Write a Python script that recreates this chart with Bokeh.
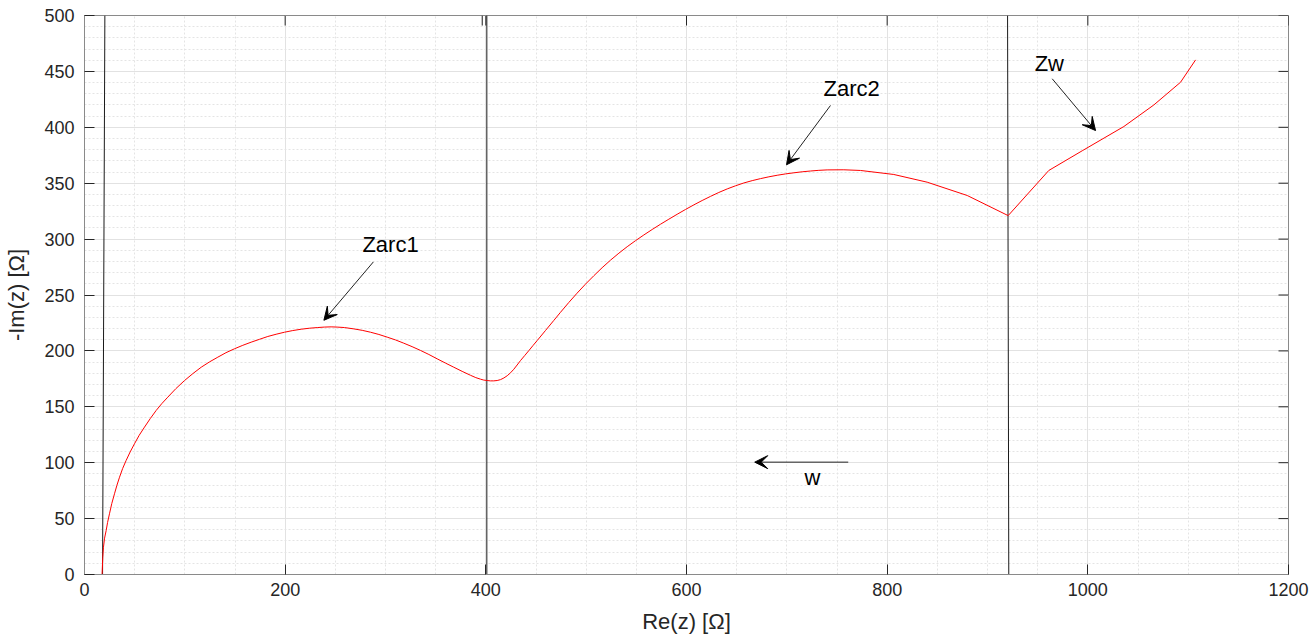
import math
from bokeh.plotting import figure
from bokeh.models import Range1d, Arrow, VeeHead, FixedTicker, ColumnDataSource
from bokeh.embed import file_html
from bokeh.resources import INLINE
from bokeh.core.properties import value

# ---- data ----
re_z = [17.5, 18.2, 18.9, 20.0, 21.6, 23.0, 24.9, 27.2, 29.9, 32.3, 34.9, 38.0,
        41.5, 45.5, 49.8, 54.5, 59.8, 65.5, 71.4, 77.0, 83.0, 91.0, 99.7, 108.0,
        116.3, 124.5, 132.9, 141.0, 149.5, 157.8, 166.1, 174.5, 182.7, 191.0,
        199.3, 207.6, 216.0, 224.2, 232.5, 239.0, 245.8, 251.8, 259.0, 268.4,
        276.8, 285.1, 293.4, 301.7, 310.0, 318.2, 326.5, 334.9, 343.2, 351.5,
        359.8, 368.1, 376.4, 384.7, 390.0, 394.7, 398.0, 401.3, 404.5, 407.9,
        411.3, 414.6, 418.0, 421.3, 424.6, 427.9, 431.2, 434.6, 438.7, 442.9,
        447.0, 451.2, 459.5, 467.8, 474.4, 482.6, 490.9, 499.2, 507.6, 515.9,
        524.3, 532.6, 540.9, 549.2, 557.5, 565.8, 574.1, 582.4, 590.7, 599.0,
        607.3, 615.6, 623.9, 632.2, 640.6, 648.9, 657.1, 665.5, 673.8, 682.1,
        690.4, 698.7, 707.0, 715.3, 723.6, 731.9, 740.2, 756.8, 773.4, 806.6,
        839.9, 879.8, 920.6, 961.1, 994.4, 1035.9, 1065.8, 1092.4, 1107.4]
neg_im_z = [0.0, 15.0, 24.4, 32.5, 39.4, 46.5, 54.3, 63.5, 72.2, 79.8, 87.0, 94.8,
            102.0, 109.6, 116.9, 124.5, 131.8, 139.4, 146.7, 152.8, 158.6, 166.2,
            173.5, 179.7, 185.4, 190.1, 194.4, 198.4, 201.9, 205.0, 207.8, 210.4,
            212.9, 214.9, 216.7, 218.2, 219.4, 220.3, 220.9, 221.3, 221.5, 221.3,
            220.9, 219.7, 218.4, 216.7, 214.7, 212.3, 209.8, 206.9, 203.8, 200.4,
            196.8, 192.9, 189.1, 185.4, 181.7, 178.2, 176.1, 174.7, 173.9, 173.5,
            173.2, 173.2, 173.5, 174.3, 175.8, 177.8, 180.4, 183.6, 187.4, 191.4,
            195.8, 200.3, 204.8, 209.3, 218.3, 227.3, 234.5, 243.2, 251.6, 259.6,
            267.2, 274.4, 281.2, 287.4, 293.2, 298.6, 303.7, 308.6, 313.3, 317.8,
            322.2, 326.5, 330.6, 334.5, 338.2, 341.7, 344.9, 347.7, 350.2, 352.3,
            354.1, 355.7, 357.1, 358.3, 359.3, 360.2, 360.9, 361.5, 361.9, 362.0,
            361.4, 357.8, 350.9, 339.0, 321.0, 361.4, 379.0, 400.7, 420.0, 440.3,
            460.3]

# vertical marker lines (start / end points)
vline_x0 = [18.0, 401.0, 921.2, 396.4]
vline_y0 = [0.0, 0.0, 0.0, 491.0]
vline_x1 = [20.3, 401.0, 920.0, 396.4]
vline_y1 = [500.0, 500.0, 500.0, 500.0]

# annotations
ann_text = ["Zarc1", "Zarc2", "Zw", "w"]
ann_x = [277.0, 736.5, 947.0, 717.6]
ann_y = [295.0, 434.7, 457.0, 86.8]
arrow_x0 = [287.9, 743.5, 964.5, 761.2]
arrow_y0 = [279.6, 419.5, 443.4, 100.5]
arrow_x1 = [238.6, 699.7, 1007.7, 668.0]
arrow_y1 = [227.4, 366.5, 397.1, 100.5]

x_ticks = [0, 200, 400, 600, 800, 1000, 1200]
y_ticks = [0, 50, 100, 150, 200, 250, 300, 350, 400, 450, 500]
x_minor = list(range(0, 1201, 50))
y_minor = list(range(0, 501, 10))

FONT = "Liberation Sans"
TXT = "#262626"
AXC = "#8a8a8a"

p = figure(width=1314, height=643, x_range=Range1d(0, 1200), y_range=Range1d(0, 500),
           output_backend="svg", toolbar_location=None,
           min_border_left=84, min_border_right=26, min_border_top=15,
           min_border_bottom=69)
p.background_fill_color = "white"
p.border_fill_color = "white"
p.outline_line_color = AXC
p.outline_line_width = 1

xt = FixedTicker(ticks=x_ticks, minor_ticks=x_minor)
yt = FixedTicker(ticks=y_ticks, minor_ticks=y_minor)

for ax in (p.xaxis[0], p.yaxis[0]):
    ax.axis_line_color = AXC
    ax.axis_line_width = 1
    ax.major_tick_line_color = TXT
    ax.major_tick_in = 10
    ax.major_tick_out = 0
    ax.minor_tick_in = 0
    ax.minor_tick_out = 0
    ax.major_label_text_font = FONT
    ax.major_label_text_color = TXT
    ax.major_label_text_font_size = "18px"
    ax.axis_label_text_font = FONT
    ax.axis_label_text_color = TXT
    ax.axis_label_text_font_style = "normal"
    ax.axis_label_text_font_size = "22px"

xa = p.xaxis[0]
ya = p.yaxis[0]
xa.ticker = xt
ya.ticker = yt
xa.axis_label = "Re(z) [Ω]"
ya.axis_label = "-Im(z) [Ω]"
xa.major_label_standoff = 8
ya.major_label_standoff = 10
xa.axis_label_standoff = 10
ya.axis_label_standoff = 12

for g in (p.xgrid[0], p.ygrid[0]):
    g.grid_line_color = "#e2e2e2"
    g.grid_line_width = 1
    g.minor_grid_line_color = "#e4e4e4"
    g.minor_grid_line_dash = "2 2"
    g.minor_grid_line_width = 1

# inward ticks on the top and right edges of the box
p.ray(x=x_ticks, y=[500] * len(x_ticks), length=10, length_units="screen",
      angle=-math.pi / 2, line_color=TXT, line_width=1)
p.ray(x=[1200] * len(y_ticks), y=y_ticks, length=10, length_units="screen",
      angle=math.pi, line_color=TXT, line_width=1)

# vertical black lines
vsrc = ColumnDataSource(dict(x0=vline_x0, y0=vline_y0, x1=vline_x1, y1=vline_y1))
p.segment(x0="x0", y0="y0", x1="x1", y1="y1", source=vsrc, line_color="#1a1a1a",
          line_width=1)

# impedance curve
p.line(re_z, neg_im_z, line_color="#ff0000", line_width=1)

# arrows
asrc = ColumnDataSource(dict(x0=arrow_x0, y0=arrow_y0, x1=arrow_x1, y1=arrow_y1))
p.add_layout(Arrow(x_start="x0", y_start="y0", x_end="x1", y_end="y1", source=asrc,
                   line_color="#222222", line_width=1,
                   end=VeeHead(size=13, fill_color="black", line_color="black",
                               line_width=1)))

# annotation texts
tsrc = ColumnDataSource(dict(x=ann_x, y=ann_y, t=ann_text))
p.text(x="x", y="y", text="t", source=tsrc, text_font=value(FONT),
       text_font_size="22px", text_color="black", text_align="left",
       text_baseline="middle")

open("out.html", "w").write(file_html(p, INLINE))
